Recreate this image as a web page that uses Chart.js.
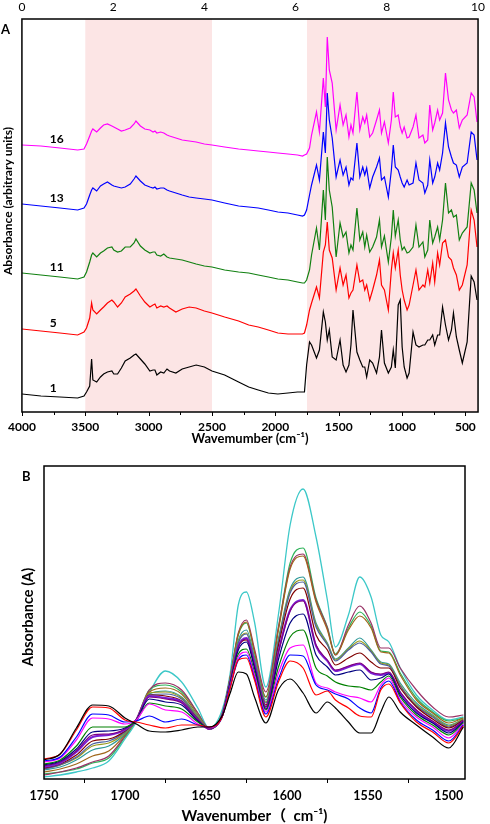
<!DOCTYPE html>
<html><head><meta charset="utf-8">
<script src="https://cdn.jsdelivr.net/npm/chart.js@4.4.1/dist/chart.umd.min.js"></script>
<style>
html,body{margin:0;padding:0;background:#fff;width:490px;height:824px;overflow:hidden;}
canvas{position:absolute;left:0;}
#cA{top:0}
#cB{top:450px}
</style></head><body>
<canvas id="cA" width="490" height="450"></canvas>
<canvas id="cB" width="490" height="374"></canvas>
<script>
// ---------- Panel A data ----------
const wavenumbersA = [4000,3850,3700,3560,3510,3490,3465,3450,3440,3410,3380,3355,3325,3290,3275,3245,3215,3185,3145,3115,3100,3065,3030,2990,2965,2950,2935,2905,2880,2855,2835,2785,2735,2680,2625,2560,2500,2400,2290,2210,2135,2055,1980,1900,1825,1785,1770,
1753,1730,1714,1675,1652,1621,1605,1590,1574,1551,1520,1489,1465,1442,1419,1403,1387,1356,1333,1310,1294,1279,1255,1232,1201,1178,1162,1139,1108,1084,1069,1053,1030,1014,999,983,960,944,913,890,866,835,820,797,781,758,742,719,703,680,657,633,610,594,571,548,524,486,454,431,408];
const sampleLabelsA = ['1','5','11','13','16'];
const spectrum1 = [18,16,15,14,16,20,26,53,32,30,35,38,40,41,38,38,44,51,54,57,58,53,48,41,42,42,37,40,39,43,41,39,43,45,47,45,41,37,30,25,22,19,18,19,20,20,20,
47,70,67,54,62,100,90,72,82,55,52,72,47,40,47,67,102,60,52,45,45,35,52,49,39,55,82,49,39,45,62,44,107,112,65,45,34,39,80,67,65,67,67,72,72,77,67,77,77,105,87,72,82,99,75,62,49,70,136,130,112];
const spectrum5 = [83,81,79,77,80,84,94,109,102,98,102,105,109,112,110,105,109,115,118,121,123,116,110,105,107,108,104,106,105,106,104,100,103,105,104,101,99,95,91,87,85,82,79,78,78,78,79,
87,102,109,125,114,160,167,190,162,154,122,144,127,137,114,119,122,147,130,132,122,127,112,122,137,152,127,122,102,142,159,144,162,137,122,112,102,107,127,142,122,127,125,142,129,149,130,159,147,169,172,155,152,144,137,122,127,147,202,192,165];
const spectrum11 = [139,137,135,133,135,140,150,157,159,155,159,161,164,165,162,160,161,165,165,169,173,166,162,159,160,160,157,156,158,155,154,153,152,150,148,146,145,142,140,139,137,135,133,132,130,129,129,
132,142,157,184,162,222,192,255,222,205,155,189,175,180,159,167,162,204,172,180,165,177,160,165,175,192,165,176,150,175,202,176,192,172,162,165,159,160,165,187,165,170,155,162,192,169,175,185,172,192,229,199,202,195,197,172,179,185,229,222,199];
const spectrum13 = [208,206,204,202,204,208,217,222,224,221,226,228,230,227,226,225,224,225,228,233,236,231,227,225,224,225,223,224,224,222,221,219,217,215,214,213,212,209,206,205,204,202,200,199,197,196,197,
202,217,227,247,232,280,259,319,292,274,235,252,237,245,227,234,232,269,235,245,237,244,224,235,245,254,232,235,215,242,267,245,242,235,229,225,232,227,229,249,232,229,219,227,252,229,235,249,242,259,289,265,255,249,247,235,245,249,280,277,252];
const spectrum16 = [267,266,264,262,263,268,276,281,283,280,284,287,288,286,285,283,281,282,284,288,291,286,283,282,280,281,279,280,279,277,276,274,272,271,270,268,267,265,263,262,261,260,259,258,257,256,257,
258,264,277,300,280,334,305,375,342,329,282,307,287,297,275,287,279,320,282,295,289,297,275,279,292,302,279,290,269,292,320,295,297,285,279,285,274,275,285,297,274,277,269,272,307,282,289,302,292,299,339,312,302,299,302,284,292,297,319,315,290];
const shadedRangesA = [[3500,2500],[1750,400]];
const bottomTicksA = [4000,3500,3000,2500,2000,1500,1000,500];
const topTicksA = [0,2,4,6,8,10];

// ---------- Panel B data ----------
const wavenumbersB = [1750,1740,1730,1720,1710,1700,1693,1685,1675,1665,1655,1648,1640,1635,1630,1625,1620,1613,1605,1598,1590,1582,1575,1570,1562,1555,1548,1542,1537,1530,1520,1510,1500,1491];
const absB01 = [19,25,51,74,73,61,55,48,47,49,52,52,63,86,107,105,82,56,90,100,86,66,77,71,57,46,46,67,82,67,54,42,31,52];
const absB02 = [20,25,49,72,71,59,57,54,51,54,54,52,62,91,119,121,99,62,98,118,111,84,88,79,71,63,62,89,95,76,57,47,36,53];
const absB03 = [18,22,42,65,64,57,58,63,57,60,54,52,62,92,119,124,101,65,101,124,123,94,89,85,80,71,66,91,98,77,59,49,38,54];
const absB04 = [17,21,39,61,60,55,59,75,69,67,55,51,62,93,122,127,104,67,107,131,134,96,91,87,83,81,77,94,101,79,62,52,41,55];
const absB05 = [15,19,33,52,52,52,59,76,73,70,57,51,62,94,125,130,107,69,113,142,149,111,103,97,93,92,89,97,103,82,64,54,44,56];
const absB06 = [14,18,30,47,48,51,59,80,77,74,58,51,63,96,129,137,111,70,121,156,165,124,112,104,107,109,99,101,105,84,66,56,46,57];
const absB07 = [13,17,28,44,45,50,59,82,80,76,59,50,63,97,132,140,114,72,128,168,178,134,119,109,113,116,107,105,107,87,69,58,49,58];
const absB08 = [12,16,27,42,44,49,59,83,81,77,59,50,63,97,133,141,115,72,129,169,179,133,118,108,112,115,106,104,106,86,68,57,48,58];
const absB09 = [11,15,24,38,40,48,59,84,83,78,60,50,63,97,132,139,114,74,135,180,191,144,129,114,121,126,117,111,111,91,72,60,51,59];
const absB10 = [10,14,22,35,38,47,59,84,85,80,61,50,64,98,136,145,118,76,139,186,197,152,134,118,129,136,127,115,113,93,73,62,52,59];
const absB11 = [10,14,21,33,36,46,59,86,87,81,62,50,64,99,137,146,119,77,140,188,199,154,135,119,130,138,128,116,114,94,74,63,53,60];
const absB12 = [9,12,19,29,33,45,59,85,88,82,63,50,64,100,139,149,122,79,142,190,202,156,136,120,131,141,129,117,115,96,76,64,54,60];
const absB13 = [7,10,15,23,28,44,59,87,91,85,64,50,65,102,145,157,127,82,151,210,223,177,149,124,149,163,151,127,126,104,79,66,56,61];
const absB14 = [4,7,11,17,23,43,60,89,96,89,66,51,65,102,146,159,130,87,154,212,225,179,151,124,154,173,156,131,131,111,89,72,62,64];
const absB15 = [5,7,10,16,21,42,59,89,94,87,66,50,65,101,144,156,127,82,153,216,231,181,152,125,151,167,153,128,127,106,81,67,58,61];
const absB16 = [2,4,7,11,18,40,57,86,108,97,71,51,69,106,174,187,157,92,167,254,290,242,179,132,164,202,182,144,137,111,84,69,59,62];
const bottomTicksB = [1750,1700,1650,1600,1550,1500];

// ---------- styles ----------
const FONT = "Lato, 'Noto Sans', 'Noto Sans CJK SC', sans-serif";
const colorsA = ['#000000','#ff0000','#118011','#0000ff','#ff00ff'];
const colorsB = ['#000000','#ff0000','#0000ff','#ff00ff','#008000','#000080','#800080','#7a1fd6','#800000','#4a5fa0','#9a9a1a','#2f9a9a','#a0661a','#993366','#2fb35a','#3cc8c8'];
const widthsB = [1.2,1.2,1.2,1.2,1.2,1.2,1.2,2,1.2,1.2,1.2,1.2,1.2,1.2,1.2,1.3];

const spectraA = [spectrum1, spectrum5, spectrum11, spectrum13, spectrum16];
const spectraB = [absB01,absB02,absB03,absB04,absB05,absB06,absB07,absB08,absB09,absB10,absB11,absB12,absB13,absB14,absB15,absB16];

function toXY(xs, ys){ return xs.map((x,i)=>({x:x, y:ys[i]})); }
const plainLabel = v => String(v);

function tickMarks(chart, step, majorEvery, majorLen, minorLen, drawMajor){
  const {ctx, chartArea:a, scales:{x}} = chart;
  ctx.save(); ctx.strokeStyle='#000'; ctx.lineWidth=1;
  const lo = Math.ceil(x.min/step)*step;
  for(let v=lo; v<=x.max+1e-6; v+=step){
    const major = Math.abs(v/majorEvery - Math.round(v/majorEvery))<1e-6;
    if(major && !drawMajor) continue;
    const len = major?majorLen:minorLen;
    const px = Math.round(x.getPixelForValue(v))+0.5;
    ctx.beginPath(); ctx.moveTo(px, a.bottom); ctx.lineTo(px, a.bottom+len); ctx.stroke();
  }
  ctx.restore();
}
function frame(chart){
  const {ctx, chartArea:a} = chart;
  ctx.save(); ctx.strokeStyle='#000'; ctx.lineWidth=1.5;
  ctx.strokeRect(a.left, a.top, a.right-a.left, a.bottom-a.top);
  ctx.restore();
}
function rotText(ctx, text, x, y, font){
  ctx.save(); ctx.translate(x,y); ctx.rotate(-Math.PI/2);
  ctx.font=font; ctx.fillStyle='#000'; ctx.textAlign='center'; ctx.textBaseline='middle';
  ctx.fillText(text,0,0); ctx.restore();
}

// ---------- Panel A ----------
new Chart(document.getElementById('cA'), {
  type:'line',
  data:{ datasets: spectraA.map((s,i)=>({label:sampleLabelsA[i], data:toXY(wavenumbersA,s), borderColor:colorsA[i], borderWidth:1.2, pointRadius:0, tension:0, fill:false})) },
  options:{
    responsive:false, animation:false, devicePixelRatio:1,
    layout:{padding:{left:0,right:7,top:0,bottom:0}},
    plugins:{legend:{display:false}, tooltip:{enabled:false}},
    scales:{
      x:{type:'linear', position:'bottom', reverse:true, min:400, max:4000,
        grid:{display:false, drawTicks:false}, border:{display:false},
        afterBuildTicks(s){ s.ticks = bottomTicksA.map(v=>({value:v})); },
        ticks:{color:'#000', font:{family:FONT,size:12,weight:'bold'}, padding:8, maxRotation:0, autoSkip:false, callback:plainLabel},
        title:{display:true, text:'Wavemumber (cm\u207B\u00B9)', color:'#000', font:{family:FONT,size:13,weight:'bold'}, padding:{top:0,bottom:3}},
        afterFit(s){ s.height=38; }},
      x2:{type:'linear', axis:'x', position:'top', min:0, max:10,
        grid:{display:false, drawTicks:false}, border:{display:false},
        afterBuildTicks(s){ s.ticks = topTicksA.map(v=>({value:v})); },
        ticks:{color:'#000', font:{family:FONT,size:12}, padding:5, maxRotation:0, autoSkip:false, callback:plainLabel},
        afterFit(s){ s.height=19; }},
      y:{min:0, max:393, grid:{display:false, drawTicks:false}, border:{display:false}, ticks:{display:false},
        afterFit(s){ s.width=20; }}
    }
  },
  plugins:[{
    id:'panelA',
    beforeDatasetsDraw(chart){
      const {ctx, chartArea:a, scales:{x}} = chart;
      ctx.save(); ctx.fillStyle='rgb(252,229,229)';
      shadedRangesA.forEach(r=>{
        const p1=x.getPixelForValue(r[0]), p2=x.getPixelForValue(r[1]);
        ctx.fillRect(Math.min(p1,p2), a.top, Math.abs(p2-p1), a.bottom-a.top);
      });
      ctx.restore();
    },
    afterDraw(chart){
      const {ctx, scales:{x,y}} = chart;
      frame(chart);
      tickMarks(chart, 250, 500, 4, 3, true);
      ctx.save(); ctx.fillStyle='#000';
      ctx.font='bold 13px '+FONT; ctx.textAlign='left'; ctx.textBaseline='middle';
      ctx.fillText('A', 1, 30);
      ctx.font='bold 12px '+FONT;
      spectraA.forEach((s,i)=>{
        ctx.fillText(sampleLabelsA[i], x.getPixelForValue(3780), y.getPixelForValue(s[0]+6));
      });
      ctx.restore();
      rotText(ctx, 'Absorbance (arbitrary units)', 8, 201, 'bold 12px '+FONT);
    }
  }]
});

// ---------- Panel B ----------
new Chart(document.getElementById('cB'), {
  type:'line',
  data:{ datasets: spectraB.map((s,i)=>({label:'B'+(i+1), data:toXY(wavenumbersB,s), borderColor:colorsB[i], borderWidth:widthsB[i], pointRadius:0, cubicInterpolationMode:'monotone', fill:false})) },
  options:{
    responsive:false, animation:false, devicePixelRatio:1,
    layout:{padding:{left:0,right:25,top:16,bottom:0}},
    plugins:{legend:{display:false}, tooltip:{enabled:false}},
    scales:{
      x:{type:'linear', position:'bottom', reverse:true, min:1490, max:1750,
        grid:{display:false, drawTicks:false}, border:{display:false},
        afterBuildTicks(s){ s.ticks = bottomTicksB.map(v=>({value:v})); },
        ticks:{color:'#000', font:{family:FONT,size:12.5,weight:'bold'}, padding:9, maxRotation:0, autoSkip:false, callback:plainLabel},
        title:{display:true, text:'Wavenumber\uFF08  cm\u207B\u00B9)', color:'#000', font:{family:FONT,size:15,weight:'bold',lineHeight:1}, padding:{top:0,bottom:0}},
        afterFit(s){ s.height=45; }},
      y:{min:0, max:313, grid:{display:false, drawTicks:false}, border:{display:false}, ticks:{display:false},
        afterFit(s){ s.width=44; }}
    }
  },
  plugins:[{
    id:'panelB',
    afterDraw(chart){
      const {ctx} = chart;
      frame(chart);
      tickMarks(chart, 25, 50, 4, 4, false);
      ctx.save(); ctx.fillStyle='#000';
      ctx.font='bold 13px '+FONT; ctx.textAlign='left'; ctx.textBaseline='middle';
      ctx.fillText('B', 22, 27);
      ctx.restore();
      rotText(ctx, 'Absorbance (A)', 28, 167, 'bold 14.5px '+FONT);
    }
  }]
});
</script></body></html>
